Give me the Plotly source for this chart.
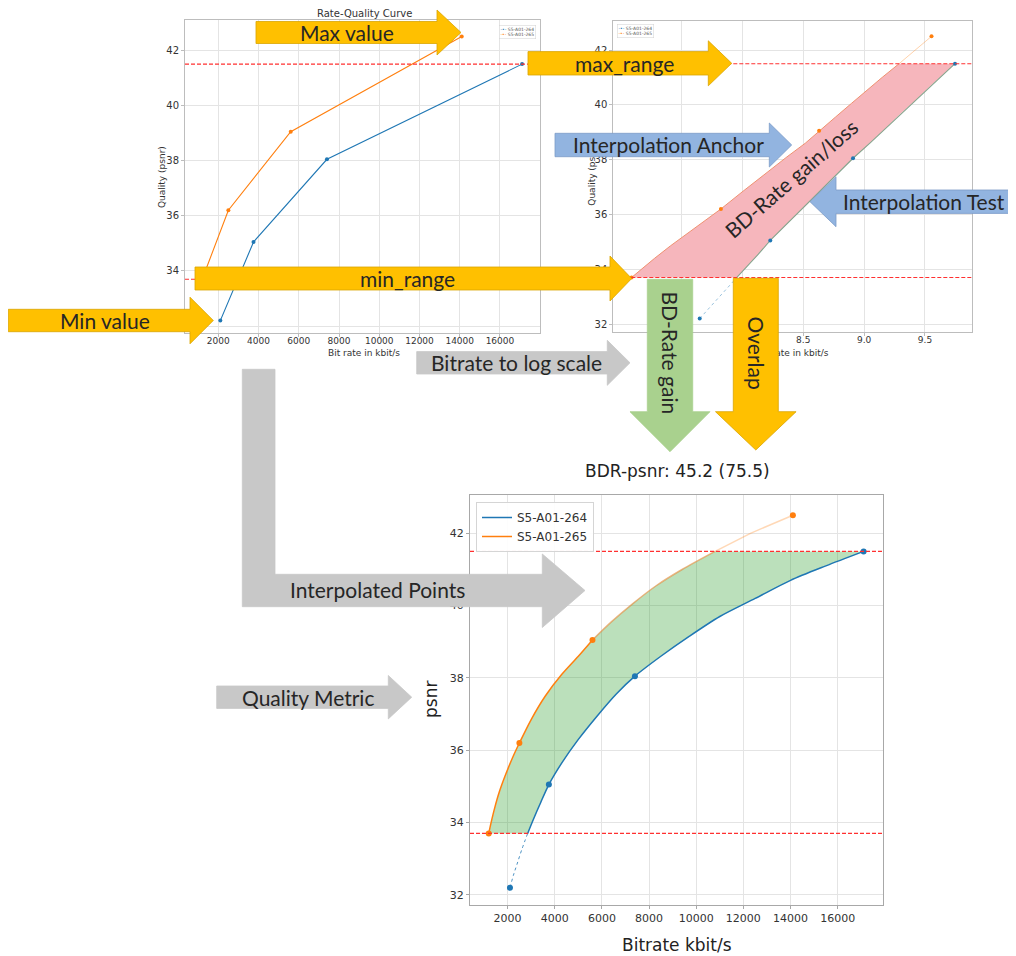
import numpy as np
import plotly.graph_objects as go

W, H = 1016, 956
OFF = 8                      # page body margin of the html page
FW, FH = W - OFF, H - OFF    # figure size so that it ends at the window edge

# ---------------- data ----------------
name_264 = "S5-A01-264"
name_265 = "S5-A01-265"
rate_264 = [2100, 3750, 7400, 17100]
psnr_264 = [32.2, 35.05, 38.05, 41.5]
rate_265 = [1200, 2500, 5600, 14100]
psnr_265 = [33.7, 36.2, 39.05, 42.5]
min_range = 33.7
max_range = 41.5

# interpolated curves
curve_rate_265 = [1200, 1300, 1450, 1650, 1900, 2200, 2500, 3000, 3600, 4300, 5000, 5600,
                  6400, 7300, 8300, 9400, 10800]
curve_psnr_265 = [33.70, 34.0, 34.4, 34.85, 35.3, 35.78, 36.2, 36.85, 37.5, 38.1, 38.6, 39.05,
                  39.55, 40.05, 40.55, 41.0, 41.5]
tail_rate_265 = [10800, 12300, 14100]
tail_psnr_265 = [41.5, 42.0, 42.5]
curve_rate_264 = [2850, 3100, 3400, 3750, 4300, 5000, 5800, 6600, 7400, 8500, 9700, 11000,
                  12500, 14000, 15500, 17100]
curve_psnr_264 = [33.7, 34.1, 34.55, 35.05, 35.65, 36.3, 36.95, 37.55, 38.05, 38.6, 39.15, 39.7,
                  40.2, 40.7, 41.1, 41.5]
head_rate_264 = [2100, 2250, 2400, 2600, 2850]
head_psnr_264 = [32.2, 32.55, 32.85, 33.25, 33.7]

x_ticks_lin = [2000, 4000, 6000, 8000, 10000, 12000, 14000, 16000]
x_ticks_log = [7.5, 8.0, 8.5, 9.0, 9.5]
y_ticks = [32, 34, 36, 38, 40, 42]
bdr_title = "BDR-psnr: 45.2 (75.5)"

# ---------------- styles ----------------
BLUE = "#1f77b4"
ORANGE = "#ff7f0e"
YEL = "#FFC000"
YEL_E = "#D9A400"
LBLUE = "#92B4E0"
LBLUE_E = "#7C9CC8"
GRAY = "#C8C8C8"
GREEN_A = "#A9D18E"
TXT = "#262626"
RED = "#FF3030"
ARROW_FONT = dict(family="Lato", size=21, color=TXT)


def px(x, y):
    return (x - OFF) / FW, 1 - (y - OFF) / FH


def dx(x):
    return (x - OFF) / FW


def dy(y):
    return 1 - (y - OFF) / FH


def path_of(pts):
    s = ""
    for i, (x, y) in enumerate(pts):
        a, b = px(x, y)
        s += ("M" if i == 0 else "L") + f"{a:.5f},{b:.5f} "
    return s + "Z"


def right_arrow(x0, yc, bh, hx, hh, tip):
    return [(x0, yc - bh), (hx, yc - bh), (hx, yc - hh), (tip, yc),
            (hx, yc + hh), (hx, yc + bh), (x0, yc + bh)]


def left_arrow(x1, yc, bh, hx, hh, tip):
    return [(x1, yc - bh), (hx, yc - bh), (hx, yc - hh), (tip, yc),
            (hx, yc + hh), (hx, yc + bh), (x1, yc + bh)]


def down_arrow(xc, y0, bw, hy, hw, tip):
    return [(xc - bw, y0), (xc + bw, y0), (xc + bw, hy), (xc + hw, hy),
            (xc, tip), (xc - hw, hy), (xc - bw, hy)]


fig = go.Figure()

# ---------------- top-left: Rate-Quality Curve ----------------
fig.add_trace(go.Scatter(x=rate_264, y=psnr_264, mode="lines+markers", xaxis="x", yaxis="y",
                         line=dict(color=BLUE, width=1.1), marker=dict(size=4, color=BLUE),
                         showlegend=False))
fig.add_trace(go.Scatter(x=rate_265, y=psnr_265, mode="lines+markers", xaxis="x", yaxis="y",
                         line=dict(color=ORANGE, width=1.1), marker=dict(size=4, color=ORANGE),
                         showlegend=False))

# ---------------- top-right: log scale ----------------
lr_c265 = np.log(curve_rate_265)
lr_c264 = np.log(curve_rate_264)
fig.add_trace(go.Scatter(x=list(lr_c265) + list(lr_c264[::-1]),
                         y=curve_psnr_265 + curve_psnr_264[::-1],
                         mode="lines", fill="toself", fillcolor="#F6B6BC",
                         line=dict(width=0), xaxis="x2", yaxis="y2", showlegend=False))
fig.add_trace(go.Scatter(x=np.log(tail_rate_265), y=tail_psnr_265, mode="lines",
                         line=dict(color="rgba(255,127,14,0.35)", width=1),
                         xaxis="x2", yaxis="y2", showlegend=False))
fig.add_trace(go.Scatter(x=np.log(head_rate_264), y=head_psnr_264, mode="lines",
                         line=dict(color="rgba(31,119,180,0.45)", width=1, dash="dot"),
                         xaxis="x2", yaxis="y2", showlegend=False))
fig.add_trace(go.Scatter(x=lr_c265, y=curve_psnr_265, mode="lines",
                         line=dict(color="#EE9070", width=1),
                         xaxis="x2", yaxis="y2", showlegend=False))
fig.add_trace(go.Scatter(x=lr_c264, y=curve_psnr_264, mode="lines",
                         line=dict(color="#86A58E", width=1.1),
                         xaxis="x2", yaxis="y2", showlegend=False))
fig.add_trace(go.Scatter(x=np.log(rate_264), y=psnr_264, mode="markers",
                         marker=dict(size=4, color=BLUE), xaxis="x2", yaxis="y2", showlegend=False))
fig.add_trace(go.Scatter(x=np.log(rate_265), y=psnr_265, mode="markers",
                         marker=dict(size=4, color=ORANGE), xaxis="x2", yaxis="y2", showlegend=False))
# helper traces for the title axes of the log plot
fig.add_trace(go.Scatter(x=[None], y=[None], xaxis="x2", yaxis="y4", showlegend=False, hoverinfo="skip"))
fig.add_trace(go.Scatter(x=[None], y=[None], xaxis="x4", yaxis="y2", showlegend=False, hoverinfo="skip"))

# ---------------- bottom: interpolated ----------------
fig.add_trace(go.Scatter(x=curve_rate_265 + curve_rate_264[::-1],
                         y=curve_psnr_265 + curve_psnr_264[::-1],
                         mode="lines", fill="toself", fillcolor="rgba(44,160,44,0.32)",
                         line=dict(width=0), xaxis="x3", yaxis="y3", showlegend=False))
fig.add_trace(go.Scatter(x=tail_rate_265, y=tail_psnr_265, mode="lines",
                         line=dict(color="rgba(255,127,14,0.3)", width=1.5),
                         xaxis="x3", yaxis="y3", showlegend=False))
fig.add_trace(go.Scatter(x=head_rate_264, y=head_psnr_264, mode="lines",
                         line=dict(color="rgba(31,119,180,0.8)", width=1, dash="dot", shape="spline"),
                         xaxis="x3", yaxis="y3", showlegend=False))
fig.add_trace(go.Scatter(x=curve_rate_264, y=curve_psnr_264, mode="lines", name=name_264,
                         line=dict(color=BLUE, width=1.5, shape="spline", smoothing=0.8),
                         xaxis="x3", yaxis="y3", showlegend=True, legendrank=1))
fig.add_trace(go.Scatter(x=curve_rate_265[:12], y=curve_psnr_265[:12], mode="lines", name=name_265,
                         line=dict(color=ORANGE, width=1.5, shape="spline", smoothing=0.8),
                         xaxis="x3", yaxis="y3", showlegend=True, legendrank=2))
fig.add_trace(go.Scatter(x=curve_rate_265[11:], y=curve_psnr_265[11:], mode="lines",
                         line=dict(color="rgba(225,140,60,0.65)", width=1.5, shape="spline", smoothing=0.8),
                         xaxis="x3", yaxis="y3", showlegend=False))
fig.add_trace(go.Scatter(x=rate_264, y=psnr_264, mode="markers", marker=dict(size=6, color=BLUE),
                         xaxis="x3", yaxis="y3", showlegend=False))
fig.add_trace(go.Scatter(x=rate_265, y=psnr_265, mode="markers", marker=dict(size=6, color=ORANGE),
                         xaxis="x3", yaxis="y3", showlegend=False))


def ax_style(fs, lc="#bdbdbd"):
    return dict(showline=True, linecolor=lc, linewidth=1, mirror=True, showgrid=True,
                gridcolor="#e4e4e4", gridwidth=1, zeroline=False, ticks="outside", ticklen=3,
                tickcolor=lc, tickfont=dict(family="DejaVu Sans", size=fs, color="#333"))


lin_text = [str(v) for v in x_ticks_lin]
log_text = [f"{v:.1f}" for v in x_ticks_log]
y_text = [str(v) for v in y_ticks]

layout = dict(
    width=FW, height=FH, margin=dict(l=0, r=0, t=0, b=0),
    paper_bgcolor="white", plot_bgcolor="white", hovermode=False,
    xaxis=dict(domain=[dx(185), dx(540)], range=[345, 17990], anchor="y",
               tickvals=x_ticks_lin, ticktext=lin_text, ticklabelstandoff=-4, **ax_style(9)),
    yaxis=dict(domain=[dy(333), dy(20)], range=[31.75, 43.1], anchor="x",
               tickvals=y_ticks, ticktext=y_text, **ax_style(10)),
    xaxis2=dict(domain=[dx(613.3), dx(971.7)], range=[6.94, 9.884], anchor="y2",
                tickvals=x_ticks_log, ticktext=log_text, ticklabelstandoff=-4, **ax_style(9)),
    yaxis2=dict(domain=[dy(332), dy(20.7)], range=[31.71, 43.07], anchor="x2",
                tickvals=y_ticks, ticktext=y_text, **ax_style(10)),
    xaxis3=dict(domain=[dx(470), dx(883.3)], range=[405, 17935], anchor="y3",
                tickvals=x_ticks_lin, ticktext=lin_text, **ax_style(11, "#a8a8a8")),
    yaxis3=dict(domain=[dy(905), dy(495)], range=[31.72, 43.06], anchor="x3",
                tickvals=y_ticks, ticktext=y_text, **ax_style(11, "#a8a8a8")),
    # title axes for the log plot (kept under the arrows)
    yaxis4=dict(overlaying="y2", anchor="free", position=dx(597), range=[31.71, 43.07],
                tickvals=[37.4], ticktext=["Quality (psnr)"], tickangle=-90, showgrid=False,
                showline=False, zeroline=False, ticks="", side="left",
                tickfont=dict(family="DejaVu Sans", size=9, color="#333")),
    xaxis4=dict(overlaying="x2", anchor="free", position=dy(346), range=[6.94, 9.884],
                tickvals=[8.412], ticktext=["Bit rate in kbit/s"], showgrid=False,
                showline=False, zeroline=False, ticks="", side="bottom",
                tickfont=dict(family="DejaVu Sans", size=9, color="#333")),
    legend=dict(x=dx(476), y=dy(502), xanchor="left", yanchor="top", itemwidth=30,
                bgcolor="rgba(255,255,255,0.9)", bordercolor="#d5d5d5", borderwidth=1,
                font=dict(family="DejaVu Sans", size=12, color="#333"), tracegroupgap=0),
)
fig.update_layout(**layout)

# reference lines (min/max range)
for ax in ["", "2", "3"]:
    for yv in [max_range, min_range]:
        fig.add_shape(type="line", xref=f"x{ax} domain", yref=f"y{ax}", x0=0, x1=1, y0=yv, y1=yv,
                      line=dict(color=RED, width=1.1, dash="4px,2px"), layer="above")

# ---------------- arrows ----------------
arrows = [
    (right_arrow(256, 32.5, 11, 437, 22.5, 461), YEL, YEL_E),                # Max value
    (right_arrow(528, 63.3, 11.7, 708.3, 22.5, 731.7), YEL, YEL_E),          # max_range
    (right_arrow(555, 145, 11.7, 769.3, 22, 791.7), LBLUE, LBLUE_E),         # Interpolation Anchor
    (left_arrow(1018, 201.7, 11.7, 836, 25, 810), LBLUE, LBLUE_E),           # Interpolation Test
    (right_arrow(195, 278.5, 11.5, 610, 22.5, 631.7), YEL, YEL_E),           # min_range
    (right_arrow(8.3, 320.5, 11.2, 190, 23.3, 213.3), YEL, YEL_E),           # Min value
    (right_arrow(416.7, 362.8, 11.2, 607.3, 22.5, 630), GRAY, GRAY),         # Bitrate to log scale
    (down_arrow(670, 279.3, 22.7, 411.7, 40, 451.7), GREEN_A, GREEN_A),      # BD-Rate gain
    (down_arrow(755.8, 278.3, 22.5, 411.7, 40.3, 450), YEL, YEL_E),          # Overlap
    ([(242.3, 369.3), (275, 369.3), (275, 574.3), (542.3, 574.3), (542.3, 554), (585, 590.5),
      (542.3, 627.5), (542.3, 606.7), (242.3, 606.7)], GRAY, GRAY),          # Interpolated Points
    (right_arrow(216.7, 697.2, 11.2, 388.3, 21.7, 411.7), GRAY, GRAY),       # Quality Metric
]
for pts, fc, lc in arrows:
    fig.add_shape(type="path", xref="paper", yref="paper", path=path_of(pts),
                  fillcolor=fc, line=dict(color=lc, width=0.8), layer="above")

texts = [
    ("Max value", 347, 32.5, 0),
    ("max_range", 624, 63.3, 0),
    ("Interpolation Anchor", 668, 145, 0),
    ("Interpolation Test", 924, 201.7, 0),
    ("min_range", 407.5, 278.5, 0),
    ("Min value", 105, 320.5, 0),
    ("Bitrate to log scale", 516.7, 362.8, 0),
    ("BD-Rate gain", 669.5, 353, 90),
    ("Overlap", 755.5, 353, 90),
    ("Interpolated Points", 377, 589, 0),
    ("Quality Metric", 308, 697.5, 0),
    ("BD-Rate gain/loss", 791, 179, -41),
]
for t, x, y, ang in texts:
    a, b = px(x, y)
    fig.add_annotation(text=t, x=a, y=b, xref="paper", yref="paper", showarrow=False,
                       xanchor="center", yanchor="middle", textangle=ang, font=ARROW_FONT)

# chart titles / axis titles
plain = [
    ("Rate-Quality Curve", 364, 13.5, 0, 10, "#333"),
    ("Bit rate in kbit/s", 364, 352.5, 0, 9, "#333"),
    ("Quality (psnr)", 162, 177, -90, 9, "#333"),
    (bdr_title, 677, 471.5, 0, 17, "#222"),
    ("Bitrate kbit/s", 677, 945, 0, 17, "#222"),
    ("psnr", 431, 700, -90, 17, "#222"),
]
for t, x, y, ang, fs, col in plain:
    a, b = px(x, y)
    fig.add_annotation(text=t, x=a, y=b, xref="paper", yref="paper", showarrow=False,
                       xanchor="center", yanchor="middle", textangle=ang,
                       font=dict(family="DejaVu Sans", size=fs, color=col))

# tiny legends of the two upper plots
mini = (f"<span style='color:{BLUE}'>-•-</span> {name_264}<br>"
        f"<span style='color:{ORANGE}'>-•-</span> {name_265}")
for x, y in [(499, 25), (617, 24)]:
    a, b = px(x, y)
    fig.add_annotation(text=mini, x=a, y=b, xref="paper", yref="paper", showarrow=False,
                       xanchor="left", yanchor="top", align="left",
                       font=dict(family="DejaVu Sans", size=4.5, color="#555"),
                       bgcolor="white", bordercolor="#d0d0d0", borderwidth=0.5, borderpad=1)

fig.write_html("out.html")
